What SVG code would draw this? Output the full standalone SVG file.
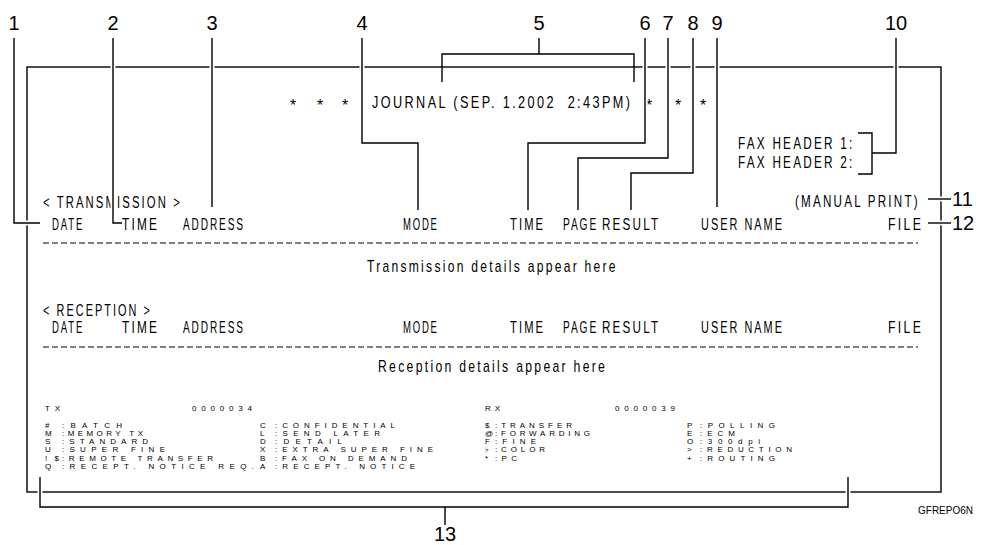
<svg xmlns="http://www.w3.org/2000/svg" width="981" height="545" viewBox="0 0 981 545">
<style>
.bg{fill:#fff}
.frame{fill:none;stroke:#000;stroke-width:1.4}
.dash{fill:none;stroke:#000;stroke-width:1.2;stroke-dasharray:6 3}
.halo{fill:none;stroke:#fff;stroke-width:5;stroke-linecap:butt}
.ln{fill:none;stroke:#000;stroke-width:1.4}
.num{font-family:"Liberation Sans",Arial,sans-serif;font-size:20px;fill:#000}
.t{font-family:"Liberation Sans",Arial,sans-serif;font-size:16px;letter-spacing:3px;fill:#000}
.ast{font-family:"Liberation Sans",Arial,sans-serif;font-size:16px;fill:#000}
.lg{font-family:"Liberation Sans",Arial,sans-serif;font-size:8px;fill:#000}
.code{font-family:"Liberation Sans",Arial,sans-serif;font-size:10px;fill:#000}
</style>
<rect class="bg" x="0" y="0" width="981" height="545"/>
<g id="report">
  <rect class="frame" x="27" y="67" width="914" height="425"/>
  <path class="dash" d="M43,243 H918"/>
  <path class="dash" d="M43,347 H918"/>
  <g id="title">
    <text class="ast" x="290" y="111">*</text>
    <text class="ast" x="317" y="111">*</text>
    <text class="ast" x="342" y="111">*</text>
    <text class="t" transform="translate(372,108) scale(0.794,1)">JOURNAL (SEP. 1.2002&#160; 2:43PM)</text>
    <text class="ast" x="646" y="111">*</text>
    <text class="ast" x="675" y="111">*</text>
    <text class="ast" x="700" y="111">*</text>
  </g>
  <g id="fax-header">
    <text class="t" transform="translate(738,149) scale(0.737,1)">FAX HEADER 1:</text>
    <text class="t" transform="translate(738,168) scale(0.737,1)">FAX HEADER 2:</text>
  </g>
  <g id="transmission">
    <text class="t" transform="translate(43,208) scale(0.705,1)">&lt; TRANSMISSION &gt;</text>
    <text class="t" transform="translate(795,207) scale(0.729,1)">(MANUAL PRINT)</text>
    <text class="t" transform="translate(52,230) scale(0.6,1)">DATE</text>
    <text class="t" transform="translate(122,230) scale(0.741,1)">TIME</text>
    <text class="t" transform="translate(183,230) scale(0.63,1)">ADDRESS</text>
    <text class="t" transform="translate(403,230) scale(0.596,1)">MODE</text>
    <text class="t" transform="translate(510,230) scale(0.699,1)">TIME</text>
    <text class="t" transform="translate(563,230) scale(0.636,1)">PAGE</text>
    <text class="t" transform="translate(602,230) scale(0.73,1)">RESULT</text>
    <text class="t" transform="translate(701,230) scale(0.68,1)">USER NAME</text>
    <text class="t" transform="translate(888,230) scale(0.771,1)">FILE</text>
    <text class="t" transform="translate(367,272) scale(0.756,1)">Transmission details appear here</text>
  </g>
  <g id="reception">
    <text class="t" transform="translate(43,316) scale(0.682,1)">&lt; RECEPTION &gt;</text>
    <text class="t" transform="translate(52,333) scale(0.6,1)">DATE</text>
    <text class="t" transform="translate(122,333) scale(0.741,1)">TIME</text>
    <text class="t" transform="translate(183,333) scale(0.63,1)">ADDRESS</text>
    <text class="t" transform="translate(403,333) scale(0.596,1)">MODE</text>
    <text class="t" transform="translate(510,333) scale(0.699,1)">TIME</text>
    <text class="t" transform="translate(563,333) scale(0.636,1)">PAGE</text>
    <text class="t" transform="translate(602,333) scale(0.73,1)">RESULT</text>
    <text class="t" transform="translate(701,333) scale(0.68,1)">USER NAME</text>
    <text class="t" transform="translate(888,333) scale(0.771,1)">FILE</text>
    <text class="t" transform="translate(378,372) scale(0.763,1)">Reception details appear here</text>
  </g>
  <g id="legend">
    <text class="lg" x="45" y="411" textLength="15">TX</text>
    <text class="lg" x="192" y="411" textLength="60">0000034</text>
    <text class="lg" x="485" y="411" textLength="15">RX</text>
    <text class="lg" x="615" y="411" textLength="60">0000039</text>

    <text class="lg" x="45" y="428">#</text>
    <text class="lg" x="45" y="436">M</text>
    <text class="lg" x="45" y="444">S</text>
    <text class="lg" x="45" y="452">U</text>
    <text class="lg" x="45" y="461" textLength="14">!$</text>
    <text class="lg" x="45" y="469">Q</text>
    <text class="lg" x="62" y="428" textLength="60">:BATCH</text>
    <text class="lg" x="62" y="436" textLength="81">:MEMORY TX</text>
    <text class="lg" x="62" y="444" textLength="86">:STANDARD</text>
    <text class="lg" x="62" y="452" textLength="103">:SUPER FINE</text>
    <text class="lg" x="62" y="461" textLength="151">:REMOTE TRANSFER</text>
    <text class="lg" x="62" y="469" textLength="192">:RECEPT. NOTICE REQ.</text>

    <text class="lg" x="260" y="428">C</text>
    <text class="lg" x="260" y="436">L</text>
    <text class="lg" x="260" y="444">D</text>
    <text class="lg" x="260" y="452">X</text>
    <text class="lg" x="260" y="461">B</text>
    <text class="lg" x="260" y="469">A</text>
    <text class="lg" x="275" y="428" textLength="120">:CONFIDENTIAL</text>
    <text class="lg" x="275" y="436" textLength="105">:SEND LATER</text>
    <text class="lg" x="275" y="444" textLength="67">:DETAIL</text>
    <text class="lg" x="275" y="452" textLength="158">:EXTRA SUPER FINE</text>
    <text class="lg" x="275" y="461" textLength="132">:FAX ON DEMAND</text>
    <text class="lg" x="275" y="469" textLength="140">:RECEPT. NOTICE</text>

    <text class="lg" x="485" y="428">$</text>
    <text class="lg" x="485" y="436">@</text>
    <text class="lg" x="485" y="444">F</text>
    <text class="lg" x="485" y="452">♭</text>
    <text class="lg" x="485" y="461">*</text>
    <text class="lg" x="495" y="428" textLength="77">:TRANSFER</text>
    <text class="lg" x="495" y="436" textLength="95">:FORWARDING</text>
    <text class="lg" x="495" y="444" textLength="41">:FINE</text>
    <text class="lg" x="495" y="452" textLength="50">:COLOR</text>
    <text class="lg" x="495" y="461" textLength="22">:PC</text>

    <text class="lg" x="687" y="428">P</text>
    <text class="lg" x="687" y="436">E</text>
    <text class="lg" x="687" y="444">O</text>
    <text class="lg" x="687" y="452">&gt;</text>
    <text class="lg" x="687" y="461">+</text>
    <text class="lg" x="700" y="428" textLength="75">:POLLING</text>
    <text class="lg" x="700" y="436" textLength="35">:ECM</text>
    <text class="lg" x="700" y="444" textLength="60">:300dpi</text>
    <text class="lg" x="700" y="452" textLength="92">:REDUCTION</text>
    <text class="lg" x="700" y="461" textLength="75">:ROUTING</text>
  </g>
  <text class="code" x="918" y="514">GFREPO6N</text>
</g>
<g id="connectors">
  <path class="halo" d="M14,38 V223 H40"/>
  <path class="halo" d="M113,38 V223 H122"/>
  <path class="halo" d="M212,38 V207"/>
  <path class="halo" d="M362,38 V143 H418 V210"/>
  <path class="halo" d="M645,38 V143 H528 V210"/>
  <path class="halo" d="M668,38 V158 H578 V210"/>
  <path class="halo" d="M693,38 V173 H631 V210"/>
  <path class="halo" d="M717,38 V207"/>
  <path class="halo" d="M896,38 V153"/>
  <path class="halo" d="M928,199 H951"/>
  <path class="halo" d="M928,223 H951"/>
  <path class="halo" d="M40,477 V507 M848,477 V507"/>

  <path class="ln" d="M14,38 V223 H40"/>
  <path class="ln" d="M113,38 V223 H122"/>
  <path class="ln" d="M212,38 V207"/>
  <path class="ln" d="M362,38 V143 H418 V210"/>
  <path class="ln" d="M539,38 V54 M442,82 V54 H634 V82"/>
  <path class="ln" d="M645,38 V143 H528 V210"/>
  <path class="ln" d="M668,38 V158 H578 V210"/>
  <path class="ln" d="M693,38 V173 H631 V210"/>
  <path class="ln" d="M717,38 V207"/>
  <path class="ln" d="M896,38 V153 H872 M858,133 H872 V174 H858"/>
  <path class="ln" d="M928,199 H951"/>
  <path class="ln" d="M928,223 H951"/>
  <path class="ln" d="M40,477 V507 H848 V477 M445,507 V525"/>
</g>
<g id="labels">
  <text class="num" x="14" y="30" text-anchor="middle">1</text>
  <text class="num" x="113" y="30" text-anchor="middle">2</text>
  <text class="num" x="212" y="30" text-anchor="middle">3</text>
  <text class="num" x="362" y="30" text-anchor="middle">4</text>
  <text class="num" x="539" y="30" text-anchor="middle">5</text>
  <text class="num" x="645" y="30" text-anchor="middle">6</text>
  <text class="num" x="668" y="30" text-anchor="middle">7</text>
  <text class="num" x="693" y="30" text-anchor="middle">8</text>
  <text class="num" x="717" y="30" text-anchor="middle">9</text>
  <text class="num" x="896" y="30" text-anchor="middle">10</text>
  <text class="num" x="952" y="206">11</text>
  <text class="num" x="952" y="230">12</text>
  <text class="num" x="445" y="541" text-anchor="middle">13</text>
</g>
</svg>
